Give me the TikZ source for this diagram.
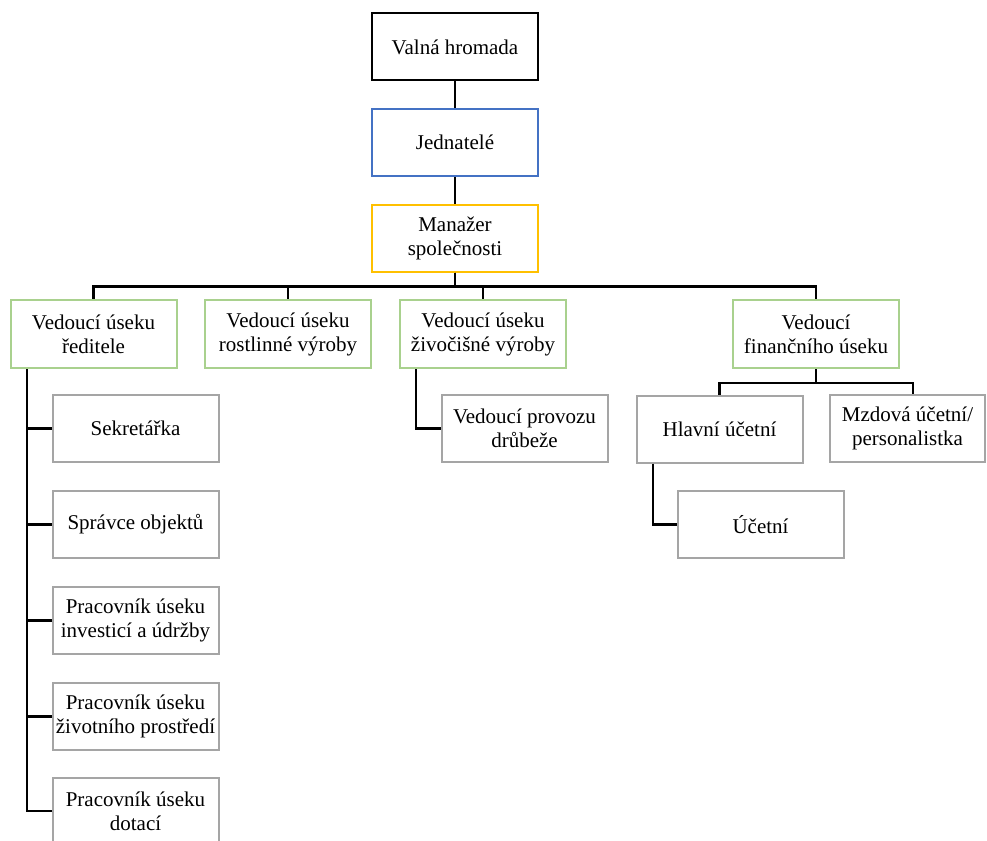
\documentclass[tikz,border=0pt]{standalone}
\usepackage{fontspec}
\setmainfont{Liberation Serif}
\definecolor{cblue}{HTML}{4472C4}
\definecolor{cyel}{HTML}{FFC000}
\definecolor{cgreen}{HTML}{A9D18E}
\definecolor{cgray}{HTML}{A5A5A5}
\begin{document}
\begin{tikzpicture}[x=1pt,y=-1pt,
  box/.style={draw, line width=2pt, fill=white, minimum width=166pt, minimum height=67pt,
    inner sep=2pt, align=center, font=\fontsize{21}{24}\selectfont},
  topbox/.style={box, draw=black},
  bluebox/.style={box, draw=cblue},
  yelbox/.style={box, draw=cyel},
  greenbox/.style={box, draw=cgreen, minimum height=68pt},
  graybox/.style={box, draw=cgray},
  conn/.style={draw=black, line width=2.5pt}]
\useasboundingbox (0,0) rectangle (987,840);
\clip (0,0) rectangle (987,840);

\node[topbox]  (vh)  at (455,47)     {Valná hromada};
\node[bluebox] (jed) at (455,142.5)  {Jednatelé};
\node[yelbox]  (man) at (455,238)    {Manažer\\společnosti};

\node[greenbox] (b1) at (93.5,334) {Vedoucí úseku\\ředitele};
\node[greenbox] (b2) at (288,334)  {Vedoucí úseku\\rostlinné výroby};
\node[greenbox] (b3) at (483,334)  {Vedoucí úseku\\živočišné výroby};
\node[greenbox] (b4) at (816,334)  {Vedoucí\\finančního úseku};

\node[graybox] (sek) at (135.5,428.5) {Sekretářka};
\node[graybox] (spr) at (135.5,524.5) {Správce objektů};
\node[graybox] (inv) at (135.5,620.5) {Pracovník úseku\\investicí a údržby};
\node[graybox] (ziv) at (135.5,716.5) {Pracovník úseku\\životního prostředí};
\node[graybox] (dot) at (135.5,811)   {Pracovník úseku\\dotací};

\node[graybox] (dru) at (524.5,428.5) {Vedoucí provozu\\drůbeže};
\node[graybox] (hla) at (719.5,429)   {Hlavní účetní};
\node[graybox, minimum width=155pt] (mzd) at (907.5,428.5) {Mzdová účetní/\\personalistka};
\node[graybox] (uce) at (760.5,524.5) {Účetní};

\draw[conn] (vh.south) -- (jed.north);
\draw[conn] (jed.south) -- (man.north);
\foreach \c in {b1,b2,b3,b4}
  \draw[conn] (man.south) -- ++(0,14) -| (\c.north);

\foreach \c in {sek,spr,inv,ziv,dot}
  \draw[conn] ([xshift=-66.5pt]b1.south) |- (\c.west);

\draw[conn] ([xshift=-67pt]b3.south) |- (dru.west);

\draw[conn] (b4.south) -- ++(0,14) -| (hla.north);
\draw[conn] (b4.south) -- ++(0,14) -| ([xshift=5.5pt]mzd.north);

\draw[conn] ([xshift=-66.5pt]hla.south) |- (uce.west);
\end{tikzpicture}
\end{document}
